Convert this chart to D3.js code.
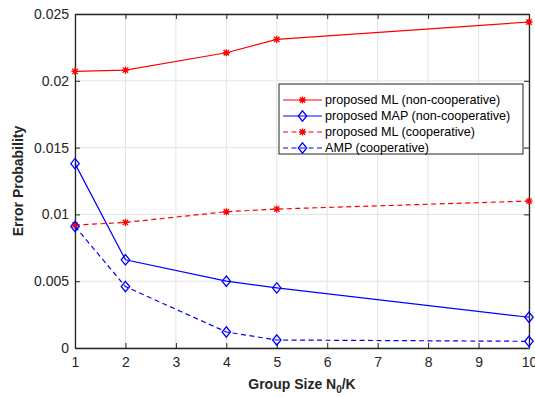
<!DOCTYPE html>
<html>
<head>
<meta charset="utf-8">
<script src="https://cdn.jsdelivr.net/npm/d3@7"></script>
<style>
  body { margin: 0; background: #fff; }
  svg { display: block; font-family: "Liberation Sans", Arial, sans-serif; }
</style>
</head>
<body>
<div id="chart"></div>
<script>
// values
const groupSizes = [1, 2, 4, 5, 10];
const mlNonCoop = [0.0207, 0.0208, 0.0221, 0.0231, 0.0244];
const mapNonCoop = [0.0138, 0.0066, 0.0050, 0.0045, 0.0023];
const mlCoop = [0.0092, 0.0094, 0.0102, 0.0104, 0.0110];
const ampCoop = [0.0091, 0.0046, 0.0012, 0.0006, 0.0005];

const xTicks = [1, 2, 3, 4, 5, 6, 7, 8, 9, 10];
const yTicks = [0, 0.005, 0.01, 0.015, 0.02, 0.025];

const seriesNames = [
  "proposed ML (non-cooperative)",
  "proposed MAP (non-cooperative)",
  "proposed ML (cooperative)",
  "AMP (cooperative)"
];

const width = 535, height = 397;
const margin = {top: 14, right: 6, bottom: 49, left: 75};
const innerW = width - margin.left - margin.right;
const innerH = height - margin.top - margin.bottom;
const axisColor = "#262626";

const series = [
  {name: seriesNames[0], values: mlNonCoop, color: "#ff0000", dash: null, marker: "star"},
  {name: seriesNames[1], values: mapNonCoop, color: "#0000ff", dash: null, marker: "diamond"},
  {name: seriesNames[2], values: mlCoop, color: "#ff0000", dash: "5,3.5", marker: "star"},
  {name: seriesNames[3], values: ampCoop, color: "#0000ff", dash: "5,3.5", marker: "diamond"}
];

const svg = d3.select("#chart").append("svg")
  .attr("width", width)
  .attr("height", height);

const g = svg.append("g").attr("transform", `translate(${margin.left},${margin.top})`);

const x = d3.scaleLinear().domain([1, 10]).range([0, innerW]);
const y = d3.scaleLinear().domain([0, 0.025]).range([innerH, 0]);

// grid
g.append("g").selectAll("line").data(xTicks).join("line")
  .attr("x1", d => x(d)).attr("x2", d => x(d))
  .attr("y1", 0).attr("y2", innerH)
  .attr("stroke", "#e3e3e3").attr("stroke-width", 1);
g.append("g").selectAll("line").data(yTicks).join("line")
  .attr("x1", 0).attr("x2", innerW)
  .attr("y1", d => y(d)).attr("y2", d => y(d))
  .attr("stroke", "#e3e3e3").attr("stroke-width", 1);

// axes (ticks pointing inward, like matlab)
const fmtY = d => d === 0 ? "0" : d3.format("")(+d.toFixed(3));
const xAxis = g.append("g").attr("transform", `translate(0,${innerH})`)
  .call(d3.axisBottom(x).tickValues(xTicks).tickSizeInner(-5).tickSizeOuter(0).tickPadding(9).tickFormat(d3.format("d")));
const yAxis = g.append("g")
  .call(d3.axisLeft(y).tickValues(yTicks).tickSizeInner(-5).tickSizeOuter(0).tickPadding(6).tickFormat(fmtY));
const xTop = g.append("g")
  .call(d3.axisTop(x).tickValues(xTicks).tickSizeInner(-5).tickSizeOuter(0).tickFormat(""));
const yRight = g.append("g").attr("transform", `translate(${innerW},0)`)
  .call(d3.axisRight(y).tickValues(yTicks).tickSizeInner(-5).tickSizeOuter(0).tickFormat(""));

[xAxis, yAxis, xTop, yRight].forEach(a => {
  a.select(".domain").attr("stroke", axisColor).attr("stroke-width", 1.3);
  a.selectAll(".tick line").attr("stroke", axisColor);
  a.selectAll(".tick text").attr("fill", axisColor).attr("font-size", 14)
    .attr("font-family", "'Liberation Sans', Arial, sans-serif");
});

// lines
const line = d3.line().x((d, i) => x(groupSizes[i])).y(d => y(d));

function drawMarker(sel, type, color) {
  if (type === "star") {
    const r = 3.6, rd = r * 0.75;
    sel.append("path")
      .attr("d", `M${-r},0L${r},0M0,${-r}L0,${r}M${-rd},${-rd}L${rd},${rd}M${-rd},${rd}L${rd},${-rd}`)
      .attr("stroke", color).attr("stroke-width", 1.3).attr("fill", "none");
  } else {
    const w = 4.2, h = 5.2;
    sel.append("path")
      .attr("d", `M0,${-h}L${w},0L0,${h}L${-w},0Z`)
      .attr("stroke", color).attr("stroke-width", 1.3).attr("fill", "none");
  }
}

series.forEach(s => {
  g.append("path")
    .datum(s.values)
    .attr("d", line)
    .attr("fill", "none")
    .attr("stroke", s.color)
    .attr("stroke-width", 1.2)
    .attr("stroke-dasharray", s.dash);
  g.append("g").selectAll("g").data(s.values).join("g")
    .attr("transform", (d, i) => `translate(${x(groupSizes[i])},${y(d)})`)
    .each(function () { drawMarker(d3.select(this), s.marker, s.color); });
});

// axis labels
svg.append("text")
  .attr("x", margin.left + innerW / 2).attr("y", 389)
  .attr("text-anchor", "middle")
  .attr("font-size", 14).attr("font-weight", "bold").attr("fill", axisColor)
  .call(t => {
    t.append("tspan").text("Group Size N");
    t.append("tspan").attr("font-size", 10).attr("dy", 4).text("0");
    t.append("tspan").attr("dy", -4).text("/K");
  });

svg.append("text")
  .attr("transform", `translate(23,${margin.top + innerH / 2}) rotate(-90)`)
  .attr("text-anchor", "middle")
  .attr("font-size", 14).attr("font-weight", "bold").attr("fill", axisColor)
  .text("Error Probability");

// legend
const legend = svg.append("g").attr("transform", "translate(279,84)");
legend.append("rect")
  .attr("width", 244).attr("height", 70)
  .attr("fill", "#fff").attr("stroke", axisColor).attr("stroke-width", 1);

const rowY = d3.scalePoint().domain(seriesNames).range([16, 64]);
series.forEach(s => {
  const row = legend.append("g").attr("transform", `translate(0,${rowY(s.name)})`);
  row.append("line")
    .attr("x1", 4).attr("x2", 43)
    .attr("stroke", s.color).attr("stroke-width", 1.2)
    .attr("stroke-dasharray", s.dash);
  drawMarker(row.append("g").attr("transform", "translate(23.5,0)"), s.marker, s.color);
  row.append("text")
    .attr("x", 46).attr("y", 0).attr("dy", "0.35em")
    .attr("font-size", 12.6).attr("fill", "#000")
    .text(s.name);
});
</script>
</body>
</html>
